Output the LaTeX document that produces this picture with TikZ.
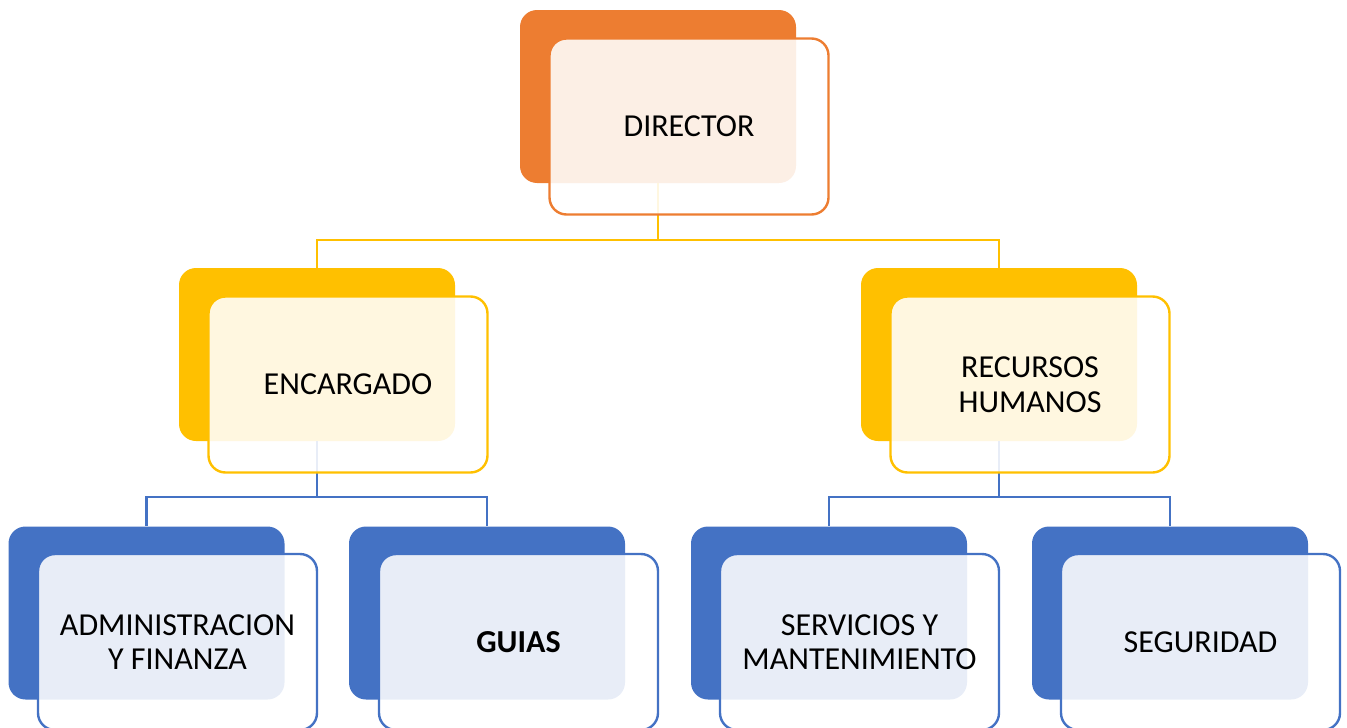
\documentclass[tikz,border=0pt]{standalone}
\usepackage{fontspec}
\setmainfont{Carlito}
\definecolor{corange}{HTML}{ED7D31}
\definecolor{cyellow}{HTML}{FFC000}
\definecolor{cblue}{HTML}{4472C4}
\begin{document}
\begin{tikzpicture}[x=1pt,y=-1pt,
  backbox/.style={rectangle, rounded corners=17pt, fill=#1, minimum width=276pt, minimum height=173pt, inner sep=0pt},
  frontbox/.style={rectangle, rounded corners=17pt, draw=#1, line width=2.4pt, fill=white, fill opacity=0.88, text opacity=1, minimum width=279pt, minimum height=176pt, inner sep=0pt, font=\fontsize{32}{34.5}\selectfont, align=center, text=black},
  link/.style={draw=#1, line width=2.2pt}]
\clip (0,0) rectangle (1347,728);
\useasboundingbox (0,0) rectangle (1347,728);
% back boxes
\node[backbox=corange] (dirB) at (658,96.5) {};
\node[backbox=cyellow] (encB) at (317,354.5) {};
\node[backbox=cyellow] (rrhB) at (999,354.5) {};
\node[backbox=cblue] (admB) at (146.5,613) {};
\node[backbox=cblue] (guiB) at (487,613) {};
\node[backbox=cblue] (serB) at (829,613) {};
\node[backbox=cblue] (segB) at (1170,613) {};
% connectors
\draw[link=cyellow] (dirB.south) -- ++(0,57) -| (encB.north);
\draw[link=cyellow] (dirB.south) -- ++(0,57) -| (rrhB.north);
\draw[link=cblue] (encB.south) -- ++(0,56) -| (admB.north);
\draw[link=cblue] (encB.south) -- ++(0,56) -| (guiB.north);
\draw[link=cblue] (rrhB.south) -- ++(0,56) -| (serB.north);
\draw[link=cblue] (rrhB.south) -- ++(0,56) -| (segB.north);
% front boxes
\node[frontbox=corange] (dir) at (689,126.5) {DIRECTOR};
\node[frontbox=cyellow] (enc) at (348,384.5) {ENCARGADO};
\node[frontbox=cyellow] (rrh) at (1030,384.5) {RECURSOS\\HUMANOS};
\node[frontbox=cblue] (adm) at (177.5,642) {ADMINISTRACION\\Y FINANZA};
\node[frontbox=cblue] (gui) at (518.5,642) {\bfseries GUIAS};
\node[frontbox=cblue] (ser) at (859.5,642) {SERVICIOS Y\\MANTENIMIENTO};
\node[frontbox=cblue] (seg) at (1200.5,642) {SEGURIDAD};
\end{tikzpicture}
\end{document}
